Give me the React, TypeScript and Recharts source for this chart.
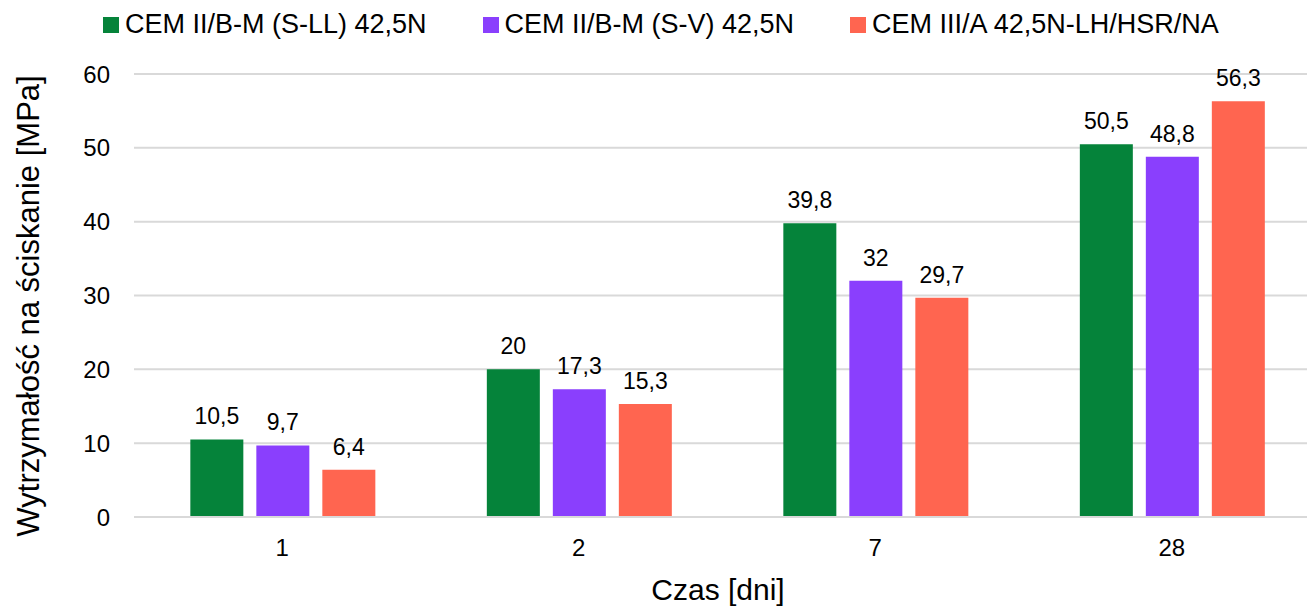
import { Bar, BarChart, CartesianGrid, LabelList, Legend, XAxis, YAxis } from 'recharts';

const days = ['1', '2', '7', '28'];
const cemLL = [10.5, 20, 39.8, 50.5];
const cemV = [9.7, 17.3, 32, 48.8];
const cemLH = [6.4, 15.3, 29.7, 56.3];
const seriesNames = ['CEM II/B-M (S-LL) 42,5N', 'CEM II/B-M (S-V) 42,5N', 'CEM III/A 42,5N-LH/HSR/NA'];
const seriesColors = ['#05833A', '#8A3FFD', '#FF6550'];
const yTicks = [0, 10, 20, 30, 40, 50, 60];

const font = '"Liberation Sans", Arial, sans-serif';

const data = days.map((d, i) => ({ day: d, ll: cemLL[i], v: cemV[i], lh: cemLH[i] }));
const keys = ['ll', 'v', 'lh'];

const fmt = (v: any) => String(v).replace('.', ',');

function LegendBox() {
    return (
        <div style={{ display: 'flex', alignItems: 'center', fontFamily: font, fontSize: 27, color: '#000', paddingLeft: 103 }}>
            {seriesNames.map((name, i) => (
                <div key={name} style={{ display: 'flex', alignItems: 'center', marginRight: 56 }}>
                    <span style={{ width: 16, height: 16, background: seriesColors[i], marginRight: 6, display: 'inline-block' }} />
                    <span>{name}</span>
                </div>
            ))}
        </div>
    );
}

function YTitle() {
    return (
        <text transform="translate(28,306) rotate(-90)" textAnchor="middle" dominantBaseline="central"
            fontFamily={font} fontSize={31} fill="#000">
            Wytrzymałość na ściskanie [MPa]
        </text>
    );
}

function XTitle() {
    return (
        <text x={718} y={589} textAnchor="middle" dominantBaseline="central" fontFamily={font} fontSize={30} fill="#000">
            Czas [dni]
        </text>
    );
}

export default function App() {
    return (
        <div style={{ position: 'fixed', left: 0, top: 0, width: 1307, height: 607, overflow: 'hidden', background: '#fff' }}>
            <BarChart
                width={1330}
                height={607}
                data={data}
                margin={{ top: 74, right: 10, left: 0, bottom: 0 }}
                barCategoryGap="19%"
                barGap={13}
            >
                <CartesianGrid vertical={false} stroke="#d9d9d9" strokeWidth={2} />
                <XAxis
                    dataKey="day"
                    height={90}
                    tickLine={false}
                    tickSize={0}
                    tickMargin={22}
                    axisLine={{ stroke: '#d9d9d9', strokeWidth: 2 }}
                    tick={{ fontFamily: font, fontSize: 24, fill: '#000' }}
                    label={<XTitle />}
                />
                <YAxis
                    domain={[0, 60]}
                    ticks={yTicks}
                    width={134}
                    axisLine={false}
                    tickLine={false}
                    tickSize={0}
                    tickMargin={24}
                    tick={{ fontFamily: font, fontSize: 24, fill: '#000' }}
                    label={<YTitle />}
                />
                <Legend
                    verticalAlign="middle"
                    align="center"
                    content={<LegendBox />}
                    wrapperStyle={{ top: 9, left: 0, width: 1307 }}
                />
                {keys.map((k, i) => (
                    <Bar key={k} dataKey={k} name={seriesNames[i]} fill={seriesColors[i]} isAnimationActive={false}>
                        <LabelList dataKey={k} position="top" offset={15} formatter={fmt}
                            style={{ fontFamily: font, fontSize: 23, fill: '#000' }} />
                    </Bar>
                ))}
            </BarChart>
        </div>
    );
}
